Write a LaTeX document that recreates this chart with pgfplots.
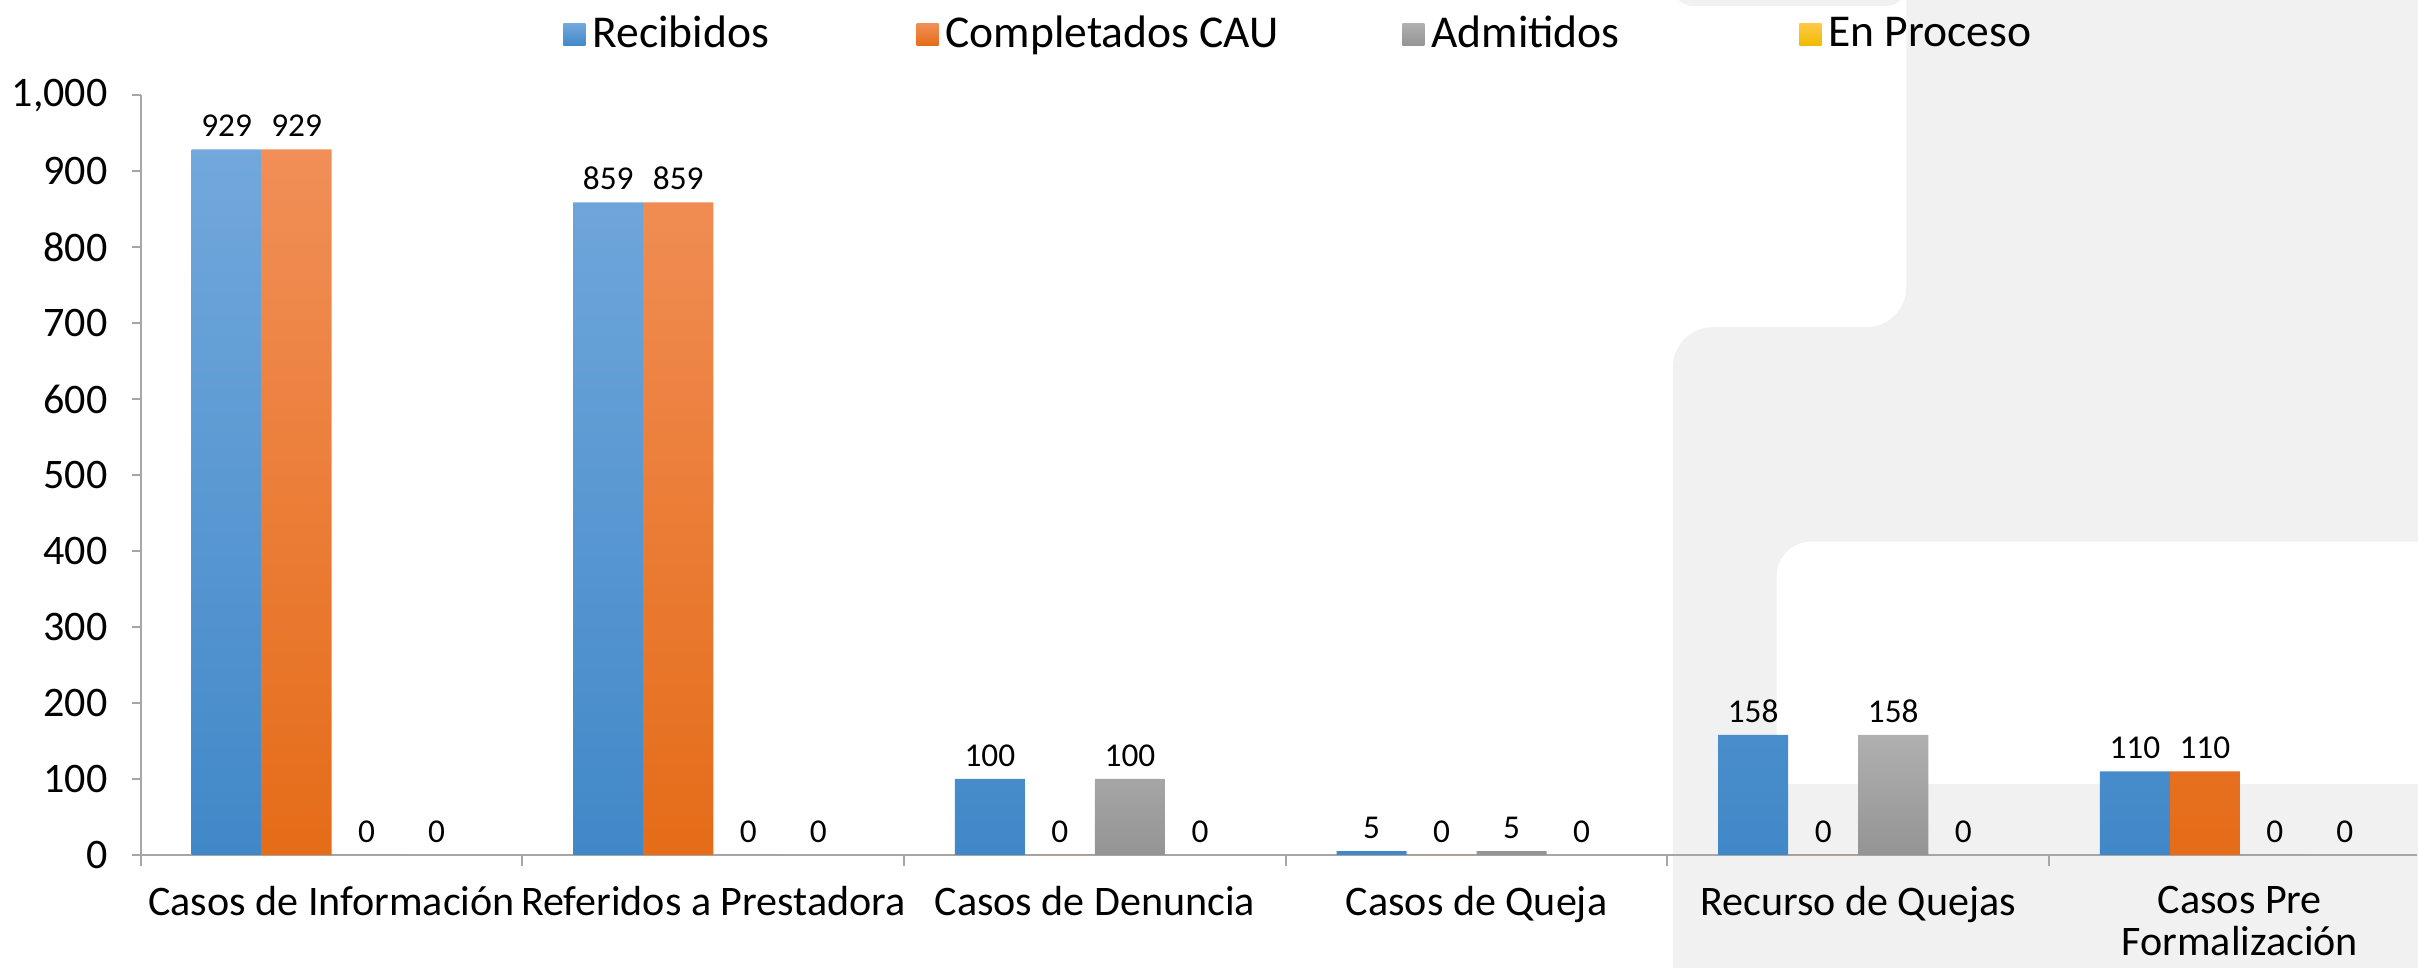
\documentclass[border=0pt]{standalone}
\usepackage{fontspec}
\setmainfont{Carlito}
\usepackage{pgfplots}
\pgfplotsset{compat=1.18}
\definecolor{bgray}{RGB}{240,241,240}
\definecolor{axgray}{RGB}{166,166,166}
\definecolor{blueT}{RGB}{114,168,220}
\definecolor{blueB}{RGB}{65,136,200}
\definecolor{orT}{RGB}{241,143,88}
\definecolor{orB}{RGB}{229,108,24}
\definecolor{grT}{RGB}{176,176,176}
\definecolor{grB}{RGB}{148,148,148}
\definecolor{yeT}{RGB}{255,200,70}
\definecolor{yeB}{RGB}{238,188,0}
\begin{document}
\begin{tikzpicture}
\begin{scope}[x=0.1mm,y=-0.1mm,shift={(-13.6mm,85.7mm)}]
\useasboundingbox (0,0) rectangle (2418,963);
\fill[bgray, rounded corners=4mm] (1906,-60) -- (2500,-60) -- (2500,1060) -- (1672,1060) -- (1672,328) -- (1906,328) -- cycle;
\fill[white] (2500,786) -- (1776,786) [rounded corners=3.5mm] -- (1776,543) [sharp corners] -- (2500,543) -- cycle;
\fill[bgray, rounded corners=2mm] (1672,-60) rectangle (1906,6);
\end{scope}
\begin{axis}[
  at={(0,0)}, anchor=south west, scale only axis,
  width=228.2mm, height=76.14mm,
  xmin=-0.5, xmax=5.464, ymin=0, ymax=1000,
  ybar=0pt, bar width=0.1835,
  axis x line*=bottom, axis y line*=left,
  axis line style={draw=axgray, line width=0.6pt},
  tick align=outside,
  xtick={0,1,2,3,4,5},
  xticklabels={Casos de Información, Referidos a Prestadora, Casos de Denuncia, Casos de Queja, Recurso de Quejas, {Casos Pre\\Formalización}},
  minor xtick={-0.5,0.5,1.5,2.5,3.5,4.5},
  major x tick style={draw=none},
  minor x tick style={draw=axgray, line width=0.6pt},
  minor tick length=1.1mm,
  ytick={0,100,...,1000},
  major y tick style={draw=axgray, line width=0.6pt},
  major tick length=0.9mm,
  xticklabel style={font=\fontsize{12}{12}\selectfont, align=center, yshift=-1mm},
  yticklabel style={font=\fontsize{12}{14}\selectfont, xshift=-1.2mm},
  /pgf/number format/assume math mode=true,
  /pgf/number format/1000 sep={,},
  nodes near coords,
  every node near coord/.append style={font=\fontsize{9.5}{10}\selectfont, text=black},
  legend columns=4,
  legend style={at={(0.1854,1.08)}, anchor=west, draw=none, fill=none,
    inner sep=0pt, font=\fontsize{13}{15}\selectfont,
    /tikz/every even column/.append style={column sep=0pt}},
  legend image code/.code={\path[#1, draw=none] (0mm,-1.1mm) rectangle (2.2mm,1.1mm);},
]
\addplot[draw=none, top color=blueT, bottom color=blueB] coordinates {(0,929) (1,859) (2,100) (3,5) (4,158) (5,110)};
\addplot[draw=none, top color=orT, bottom color=orB] coordinates {(0,929) (1,859) (2,0) (3,0) (4,0) (5,110)};
\addplot[draw=none, top color=grT, bottom color=grB] coordinates {(0,0) (1,0) (2,100) (3,5) (4,158) (5,0)};
\addplot[draw=none, top color=yeT, bottom color=yeB] coordinates {(0,0) (1,0) (2,0) (3,0) (4,0) (5,0)};
\legend{\makebox[31.8mm][l]{Recibidos}, \makebox[45.1mm][l]{Completados CAU}, \makebox[36.2mm][l]{Admitidos}, En Proceso}
\end{axis}
\end{tikzpicture}
\end{document}
